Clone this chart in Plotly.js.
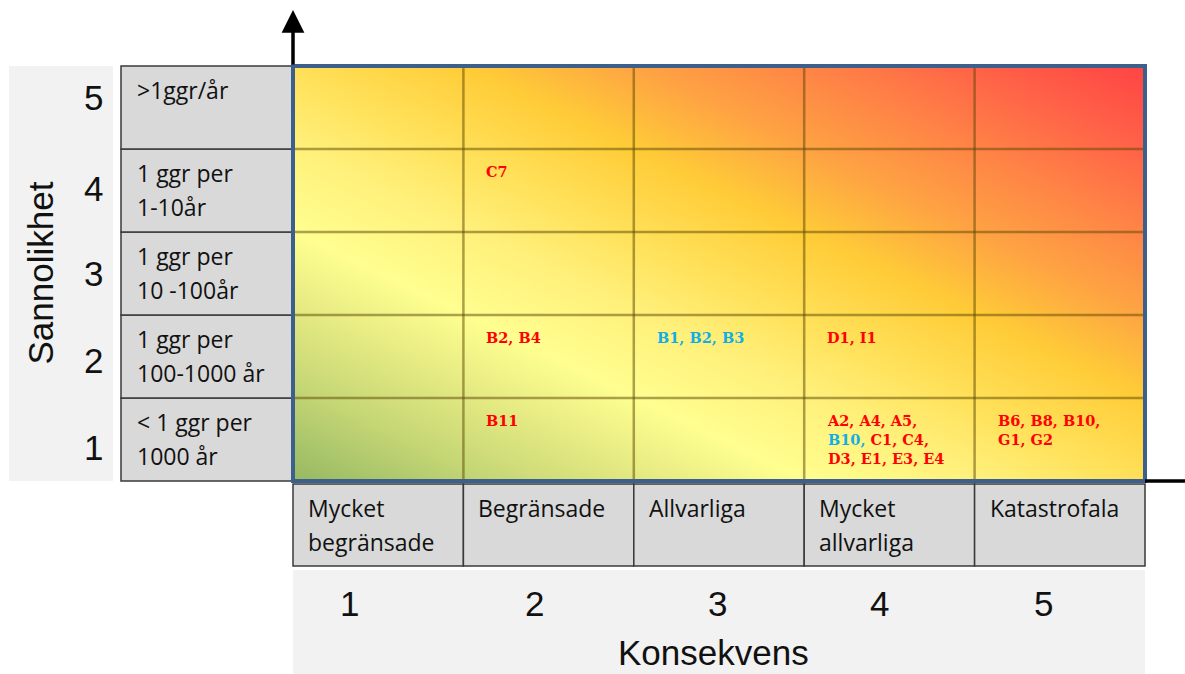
<!DOCTYPE html>
<html>
<head>
<meta charset="utf-8">
<script src="https://cdn.plot.ly/plotly-3.0.1.min.js"></script>
<style>html,body{margin:0;padding:0;background:#fff;}#chart{width:1185px;height:674px;}</style>
</head>
<body>
<div id="chart"></div>
<script>
// ---------- data ----------
const consequenceLevels = [1, 2, 3, 4, 5];
const consequenceLabels = ["Mycket<br>begränsade", "Begränsade", "Allvarliga", "Mycket<br>allvarliga", "Katastrofala"];
const likelihoodLevels = [1, 2, 3, 4, 5];
const likelihoodLabels = ["< 1 ggr per<br>1000 år", "1 ggr per<br>100-1000 år", "1 ggr per<br>10 -100år", "1 ggr per<br>1-10år", ">1ggr/år"];
const xTitle = "Konsekvens";
const yTitle = "Sannolikhet";

const riskConsequence = [2, 2, 3, 4, 2, 4, 5];
const riskLikelihood  = [4, 2, 2, 2, 1, 1, 1];
const BLUE = "#12aee6";
const riskText = [
  "C7",
  "B2, B4",
  "<span style='color:" + BLUE + "'>B1, B2, B3</span>",
  "D1, I1",
  "B11",
  "A2, A4, A5,<br><span style='color:" + BLUE + "'>B10,</span> C1, C4,<br>D3, E1, E3, E4",
  "B6, B8, B10,<br>G1, G2"
];

// ---------- background gradient (styling) ----------
function gradientImage() {
  const W = 400, H = 400;
  const c = document.createElement("canvas");
  c.width = W; c.height = H;
  const ctx = c.getContext("2d");
  const a = 0.5, b = 0.5, n = a * a + b * b;
  const g = ctx.createLinearGradient(0, H, (a / n) * W, H - (b / n) * H);
  const stops = [
    [0.00, "#96b963"], [0.12, "#c6d776"], [0.22, "#e8ec84"], [0.30, "#ffff90"],
    [0.41, "#fff07a"], [0.50, "#ffe058"], [0.60, "#ffcc38"], [0.70, "#fea443"],
    [0.80, "#ff8446"], [0.90, "#ff6248"], [1.00, "#ff4444"]
  ];
  stops.forEach(s => g.addColorStop(s[0], s[1]));
  ctx.fillStyle = g;
  ctx.fillRect(0, 0, W, H);
  return c.toDataURL("image/png");
}

// ---------- layout geometry ----------
const UX = 170.4, UY = 83;           // px per unit
const X0PX = 293, Y0PX = 481;        // pixel of (0.5, 0.5)
const px2x = p => 0.5 + (p - X0PX) / UX;
const px2y = p => 0.5 + (Y0PX - p) / UY;
const LINE_GAP = 34;

const shapes = [];
const annotations = [];
const labelFont = {family: "Open Sans, sans-serif", size: 23, color: "#111"};
const bigFont = {family: "Liberation Sans, Arial, sans-serif", size: 35, color: "#111"};

// light panels
shapes.push({type: "rect", layer: "below", x0: px2x(9), x1: px2x(113), y0: 0.5, y1: 5.5,
  fillcolor: "#f2f2f2", line: {width: 0}});
shapes.push({type: "rect", layer: "below", x0: 0.5, x1: 5.5, y0: px2y(570), y1: px2y(674),
  fillcolor: "#f2f2f2", line: {width: 0}});

function addLabel(x, y, text, xshift) {
  text.split("<br>").forEach((line, j) => {
    annotations.push({x: x, y: y, xref: "x", yref: "y", xanchor: "left", yanchor: "middle",
      xshift: xshift, yshift: -24 - LINE_GAP * j, align: "left", showarrow: false,
      text: line, font: labelFont});
  });
}

// left label cells
likelihoodLevels.forEach((l, i) => {
  shapes.push({type: "rect", layer: "below", x0: px2x(121), x1: 0.5, y0: l - 0.5, y1: l + 0.5,
    fillcolor: "#d9d9d9", line: {color: "#3a3a3a", width: 1.5}});
  addLabel(px2x(121), l + 0.5, likelihoodLabels[i], 14);
  const ys = [-8, -4, 0, 2, 10][i];
  annotations.push({x: px2x(93), y: l, xref: "x", yref: "y", xanchor: "center", yanchor: "middle",
    yshift: ys, showarrow: false, text: String(l), font: bigFont});
});

// bottom label cells
consequenceLevels.forEach((c, i) => {
  shapes.push({type: "rect", layer: "below", x0: c - 0.5, x1: c + 0.5, y0: px2y(566), y1: px2y(484),
    fillcolor: "#d9d9d9", line: {color: "#3a3a3a", width: 1.5}});
  addLabel(c - 0.5, px2y(484), consequenceLabels[i], 13);
  const xs = [-29, -14, -2, -10, -16][i];
  annotations.push({x: c, y: px2y(603), xref: "x", yref: "y", xanchor: "center", yanchor: "middle",
    xshift: xs, showarrow: false, text: String(c), font: bigFont});
});

// grid lines inside the matrix
for (let k = 1.5; k <= 4.5; k += 1) {
  shapes.push({type: "line", layer: "above", x0: k, x1: k, y0: 0.5, y1: 5.5,
    line: {color: "rgba(90,70,0,0.5)", width: 2.5}});
  shapes.push({type: "line", layer: "above", x0: 0.5, x1: 5.5, y0: k, y1: k,
    line: {color: "rgba(90,70,0,0.5)", width: 2.5}});
}
// matrix border
shapes.push({type: "rect", layer: "above", x0: 0.5, x1: 5.5, y0: 0.5, y1: 5.5,
  line: {color: "#3d5f8c", width: 4}});
// horizontal axis stub
shapes.push({type: "line", layer: "above", x0: 5.5, x1: px2x(1185), y0: 0.5, y1: 0.5,
  line: {color: "#000", width: 3.5}});

// vertical axis arrow
annotations.push({x: 0.5, y: px2y(10), ax: 0.5, ay: 5.5, xref: "x", yref: "y", axref: "x", ayref: "y",
  showarrow: true, arrowhead: 2, arrowsize: 1.3, arrowwidth: 3.5, arrowcolor: "#000", text: ""});

// axis titles
annotations.push({x: 3, y: px2y(652), xref: "x", yref: "y", xanchor: "center", yanchor: "middle",
  xshift: -6, showarrow: false, text: xTitle, font: bigFont});
annotations.push({x: px2x(40), y: 3, xref: "x", yref: "y", xanchor: "center", yanchor: "middle",
  textangle: -90, showarrow: false, text: yTitle, font: bigFont});

// risk items
riskText.forEach((t, i) => {
  annotations.push({x: riskConsequence[i] - 0.5, y: riskLikelihood[i] + 0.5, xref: "x", yref: "y",
    xanchor: "left", yanchor: "top", xshift: 21, yshift: -12, align: "left", showarrow: false,
    text: t, font: {family: "DejaVu Serif, serif", size: 14.5, color: "#ff0000", weight: 700}});
});

const layout = {
  width: 1185, height: 674,
  margin: {l: 0, r: 0, t: 0, b: 0},
  paper_bgcolor: "#ffffff", plot_bgcolor: "rgba(0,0,0,0)",
  showlegend: false,
  xaxis: {range: [px2x(0), px2x(1185)], visible: false, fixedrange: true},
  yaxis: {range: [px2y(674), px2y(0)], visible: false, fixedrange: true},
  images: [{source: gradientImage(), xref: "x", yref: "y", x: 0.5, y: 5.5, sizex: 5, sizey: 5,
    xanchor: "left", yanchor: "top", sizing: "stretch", layer: "below"}],
  shapes: shapes,
  annotations: annotations
};

Plotly.newPlot("chart", [], layout, {displayModeBar: false, staticPlot: true});
</script>
</body>
</html>
